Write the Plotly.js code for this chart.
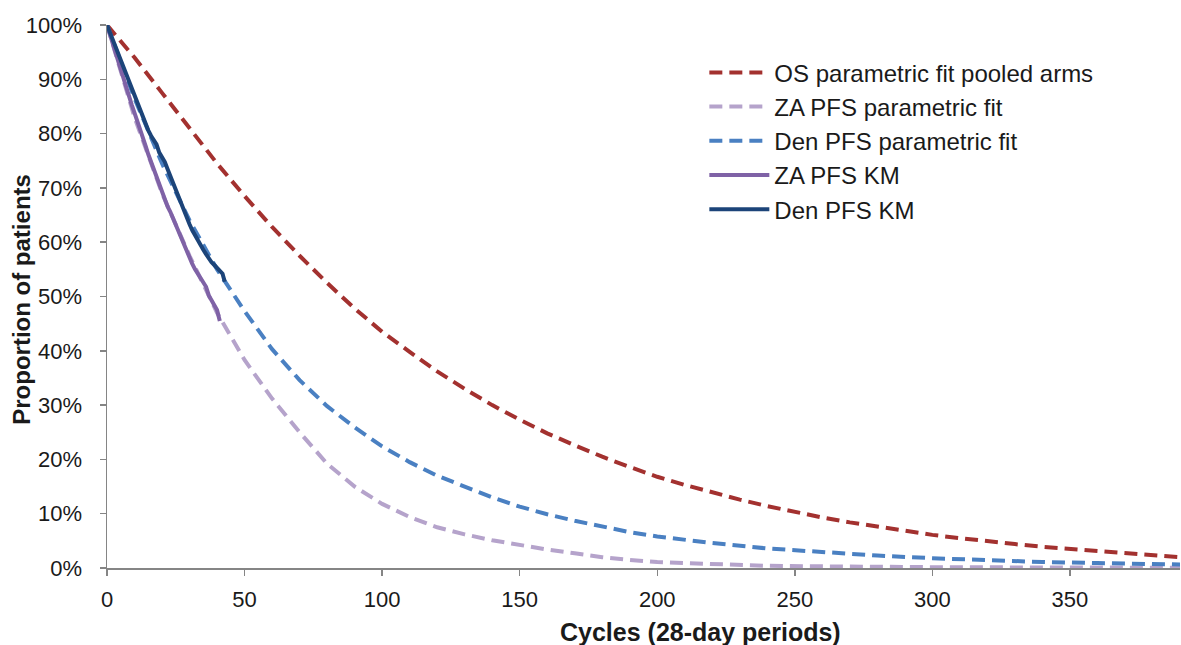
<!DOCTYPE html>
<html>
<head>
<meta charset="utf-8">
<script src="https://cdn.plot.ly/plotly-3.0.1.min.js"></script>
<style>
  html, body { margin: 0; padding: 0; background: #ffffff; }
  #chart { width: 1181px; height: 645px; }
</style>
</head>
<body>
<div id="chart"></div>
<script>
// ---- Data (cycles, % of patients) ----
const osCycles = [0,5,10,20,30,40,50,60,70,80,90,100,110,120,130,140,150,160,170,180,190,200,210,220,230,240,250,260,270,280,290,300,310,320,330,340,350,360,370,380,390];
const osFit    = [100,97,94,87.5,81,74.5,68.5,62.8,57.5,52.5,47.8,43.5,39.8,36.2,33.0,30.0,27.3,24.8,22.6,20.5,18.6,16.8,15.3,13.9,12.6,11.4,10.3,9.3,8.4,7.6,6.8,6.1,5.5,4.9,4.4,3.9,3.5,3.1,2.7,2.4,2.0];

const zaFitCycles = [0,10,20,30,40,50,60,70,80,90,100,110,120,130,140,150,160,170,180,190,200,210,220,240,260,280,300,340,390];
const zaFit       = [100,83,69,57.5,47,38.3,31.2,25.0,19.2,15.0,11.8,9.4,7.5,6.2,5.1,4.2,3.4,2.7,2.0,1.5,1.1,0.9,0.7,0.4,0.3,0.2,0.15,0.1,0.05];

const denFitCycles = [0,10,20,30,40,50,60,70,80,90,100,110,120,130,140,150,160,170,180,190,200,220,240,260,280,300,320,340,360,390];
const denFit       = [100,86.5,74.5,64,55,47.3,40.3,34.6,29.8,25.9,22.4,19.5,17.0,14.9,13.0,11.3,9.9,8.7,7.6,6.6,5.8,4.6,3.6,2.9,2.3,1.8,1.4,1.1,0.9,0.65];

const zaKmCycles = [0,1,2,3,4,5,6,7,8,9,10,11,12,13,14,15,16,17,18,19,20,21,22,23,24,25,26,27,28,29,30,31,32,33,34,35,36,37,38,39,40,41];
const zaKm       = [100,98.3,96.6,95,93.3,91.6,90,88.4,86.8,85.3,83.8,82.4,80.8,79.3,77.8,76.2,74.8,73.4,72,70.4,69,67.8,66.6,65.6,64.4,63.2,62,60.6,59.2,58.2,57.2,56,55,54.2,53.6,52.6,51.8,50.2,49.4,48.6,47.5,45.5];

const denKmCycles = [0,1,2,3,4,5,6,7,8,9,10,11,12,13,14,15,16,17,18,19,20,21,22,23,24,25,26,27,28,29,30,31,32,33,34,35,36,37,38,39,40,41,42,42.8];
const denKm       = [100,98.7,97.3,96,94.6,93.3,92,90.6,89.3,88.2,87,85.6,84.3,83,81.8,80.6,79.6,78.8,78,76.5,75.6,74.8,73.5,72.2,70.8,69.3,68,66.8,65.5,64.3,63.3,62.2,61.2,60.2,59.4,58.6,57.8,57,56.3,55.8,55.2,54.6,54.2,52.7];

const xTicks = [0,50,100,150,200,250,300,350];
const yTicks = [0,10,20,30,40,50,60,70,80,90,100];

const seriesNames = ['OS parametric fit pooled arms','ZA PFS parametric fit','Den PFS parametric fit','ZA PFS KM','Den PFS KM'];
const xTitle = 'Cycles (28-day periods)';
const yTitle = 'Proportion of patients';

const FONT = 'Liberation Sans, Arial, sans-serif';
const DASH = '13px,7px';
const TXT = '#1a1a1a';

const traces = [
  {x: osCycles, y: osFit, name: seriesNames[0], mode: 'lines', legendgroup: 'g1',
   line: {color: '#A3312F', width: 4, dash: DASH}},
  {x: zaFitCycles, y: zaFit, name: seriesNames[1], mode: 'lines', legendgroup: 'g2',
   line: {color: '#B5A3CB', width: 4, dash: DASH}},
  {x: denFitCycles, y: denFit, name: seriesNames[2], mode: 'lines', legendgroup: 'g3',
   line: {color: '#4A80C2', width: 4, dash: DASH}},
  {x: zaKmCycles, y: zaKm, name: seriesNames[3], mode: 'lines', legendgroup: 'g4',
   line: {color: '#7F62A6', width: 4}},
  {x: denKmCycles, y: denKm, name: seriesNames[4], mode: 'lines', legendgroup: 'g5',
   line: {color: '#1C4479', width: 4}}
];

const layout = {
  width: 1181, height: 645,
  margin: {l: 107, r: 1, t: 25, b: 77, pad: 0},
  paper_bgcolor: '#ffffff', plot_bgcolor: '#ffffff',
  font: {family: FONT, color: TXT, size: 22},
  showlegend: true,
  legend: {
    x: 0.5567, y: 0.9534, xanchor: 'left', yanchor: 'top',
    bgcolor: 'rgba(0,0,0,0)', borderwidth: 0,
    font: {family: FONT, size: 24, color: TXT},
    tracegroupgap: 0, itemwidth: 60
  },
  xaxis: {
    range: [0, 390], tickmode: 'array', tickvals: xTicks, ticktext: xTicks.map(String),
    showgrid: false, zeroline: false, showline: true, linecolor: '#858585', linewidth: 1.5,
    ticks: 'outside', ticklen: 6, tickcolor: '#858585', tickwidth: 1.5,
    tickfont: {family: FONT, size: 22, color: TXT}, ticklabelstandoff: 5,
    fixedrange: true
  },
  yaxis: {
    range: [0, 100], tickmode: 'array', tickvals: yTicks, ticktext: yTicks.map(v => v + '%'),
    showgrid: false, zeroline: false, showline: true, linecolor: '#858585', linewidth: 1.5,
    ticks: 'outside', ticklen: 6, tickcolor: '#858585', tickwidth: 1.5,
    tickfont: {family: FONT, size: 22, color: TXT}, ticklabelstandoff: 13,
    fixedrange: true
  },
  annotations: [
    {text: '<b>' + xTitle + '</b>', xref: 'paper', yref: 'paper', x: 0.5527, y: -0.1179,
     xanchor: 'center', yanchor: 'middle', showarrow: false,
     font: {family: FONT, size: 25, color: TXT}},
    {text: '<b>' + yTitle + '</b>', xref: 'paper', yref: 'paper', x: -0.0792, y: 0.494,
     xanchor: 'center', yanchor: 'middle', textangle: -90, showarrow: false,
     font: {family: FONT, size: 24, color: TXT}}
  ]
};

Plotly.newPlot('chart', traces, layout, {displayModeBar: false, staticPlot: true});
</script>
</body>
</html>
